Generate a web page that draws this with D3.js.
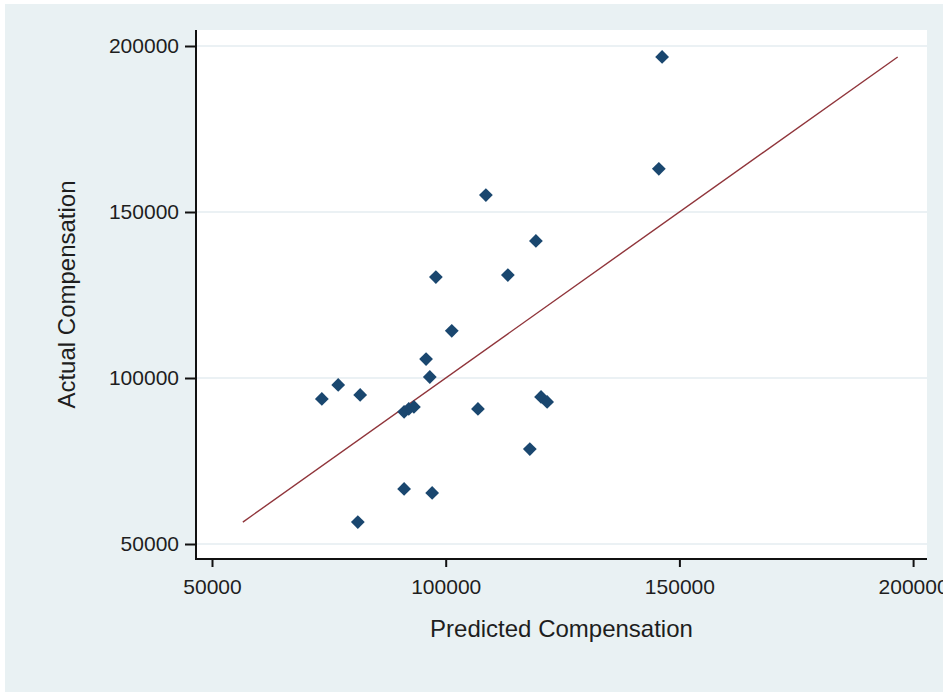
<!DOCTYPE html>
<html>
<head>
<meta charset="utf-8">
<script src="https://cdn.jsdelivr.net/npm/d3@7"></script>
<style>
  html, body { margin: 0; padding: 0; background: #fff; }
  svg { display: block; font-family: "Liberation Sans", Arial, sans-serif; }
</style>
</head>
<body>
<div id="chart"></div>
<script>
// predicted vs actual compensation
const predicted = [108600, 119300, 97900, 113300, 101300, 95800, 96600, 77000, 73500, 81700,
  91100, 92100, 93200, 106900, 120400, 121700, 118000, 91100, 97100, 81200, 146300, 145600];
const actual = [155100, 141300, 130400, 131000, 114200, 105700, 100300, 97900, 93700, 94900,
  89800, 90700, 91300, 90700, 94300, 92800, 78600, 66600, 65400, 56600, 196700, 163000];
const xTicks = [50000, 100000, 150000, 200000];
const yTicks = [50000, 100000, 150000, 200000];
const xTitle = 'Predicted Compensation';
const yTitle = 'Actual Compensation';

const width = 943, height = 692;
const plot = { left: 196, right: 927, top: 30, bottom: 559 };

const svg = d3.select('#chart').append('svg')
  .attr('width', width)
  .attr('height', height);

// graph region
svg.append('rect')
  .attr('x', 5).attr('y', 4)
  .attr('width', width - 5).attr('height', height - 4)
  .attr('fill', '#e9f1f3');

svg.append('rect')
  .attr('x', plot.left).attr('y', plot.top)
  .attr('width', plot.right - plot.left).attr('height', plot.bottom - plot.top)
  .attr('fill', '#fff');

const x = d3.scaleLinear().domain([46577, 202975]).range([plot.left, plot.right]);
const y = d3.scaleLinear().domain([45484, 204819]).range([plot.bottom, plot.top]);

// horizontal grid
svg.append('g')
  .selectAll('line')
  .data(yTicks)
  .join('line')
  .attr('x1', plot.left).attr('x2', plot.right)
  .attr('y1', d => y(d)).attr('y2', d => y(d))
  .attr('stroke', '#e4edf0')
  .attr('stroke-width', 1.5);

// 45 degree line over range of actual
const lo = d3.min(actual), hi = d3.max(actual);
svg.append('line')
  .attr('x1', x(lo)).attr('y1', y(lo))
  .attr('x2', x(hi)).attr('y2', y(hi))
  .attr('stroke', '#90353b')
  .attr('stroke-width', 1.4);

const pts = predicted.map((p, i) => ({ p, a: actual[i] }));
const diamond = d3.symbol(d3.symbolSquare, 95);
svg.append('g')
  .selectAll('path')
  .data(pts)
  .join('path')
  .attr('d', diamond)
  .attr('transform', d => `translate(${x(d.p)},${y(d.a)}) rotate(45)`)
  .attr('fill', '#1a476f');

// axes
const yAxis = d3.axisLeft(y).tickValues(yTicks).tickFormat(d3.format('d'))
  .tickSizeInner(11).tickSizeOuter(0).tickPadding(6);
const yg = svg.append('g').attr('transform', `translate(${plot.left},0)`).call(yAxis);

const xAxis = d3.axisBottom(x).tickValues(xTicks).tickFormat(d3.format('d'))
  .tickSizeInner(8).tickSizeOuter(0).tickPadding(12);
const xg = svg.append('g').attr('transform', `translate(0,${plot.bottom})`).call(xAxis);

[yg, xg].forEach(g => {
  g.select('.domain').attr('stroke', '#111').attr('stroke-width', 2);
  g.selectAll('.tick line').attr('stroke', '#111').attr('stroke-width', 2);
  g.selectAll('.tick text')
    .attr('fill', '#1e1e1e')
    .style('font-size', '21px')
    .style('font-family', '"Liberation Sans", Arial, sans-serif');
});
yg.select('.domain').attr('d', `M0,${plot.top}V${plot.bottom + 1}`);
xg.select('.domain').attr('d', `M${plot.left - 1},0H${plot.right}`);

svg.append('text')
  .attr('x', (plot.left + plot.right) / 2)
  .attr('y', 637)
  .attr('text-anchor', 'middle')
  .attr('fill', '#1e1e1e')
  .style('font-size', '24px')
  .text(xTitle);

svg.append('text')
  .attr('transform', `translate(75,${(plot.top + plot.bottom) / 2}) rotate(-90)`)
  .attr('text-anchor', 'middle')
  .attr('fill', '#1e1e1e')
  .style('font-size', '24px')
  .text(yTitle);
</script>
</body>
</html>
